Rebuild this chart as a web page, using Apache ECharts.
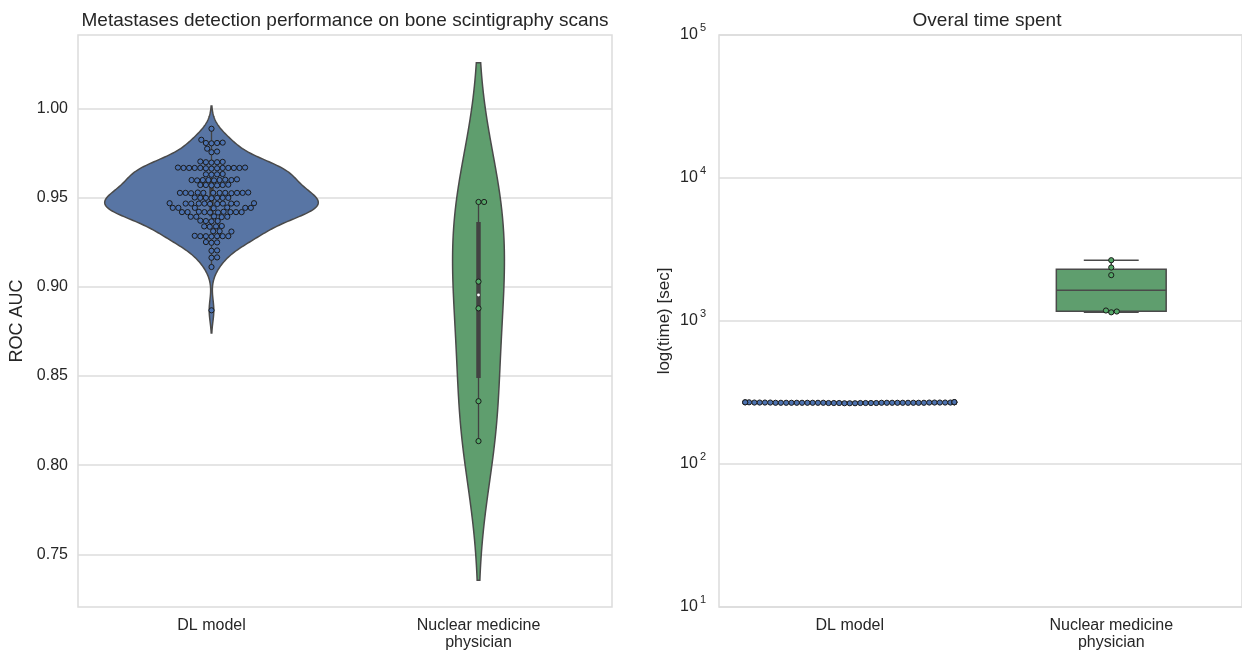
<!DOCTYPE html>
<html><head><meta charset="utf-8">
<script src="https://cdn.jsdelivr.net/npm/echarts@6/dist/echarts.min.js"></script>
<style>html,body{margin:0;padding:0;background:#fff}#c{width:1242px;height:651px}</style>
</head><body><div id="c"></div>
<script>
// ---------------- data ----------------
const categories = ['DL model', 'Nuclear medicine\nphysician'];
const aucTicks = [0.75, 0.80, 0.85, 0.90, 0.95, 1.00];
const timeTicks = [10, 100, 1000, 10000, 100000];

const aucDL = [
  0.9888,
  0.9826,
  0.9808, 0.9808, 0.9806, 0.9810,
  0.9776, 0.9760, 0.9756,
  0.9700, 0.9702, 0.9698, 0.9700, 0.9704,
  0.9668, 0.9666, 0.9668, 0.9670, 0.9668, 0.9664, 0.9668, 0.9668, 0.9670, 0.9666, 0.9668, 0.9668, 0.9668,
  0.9634, 0.9632, 0.9630, 0.9632,
  0.9600, 0.9600, 0.9602, 0.9598, 0.9600, 0.9600, 0.9604, 0.9600, 0.9598,
  0.9572, 0.9570, 0.9574, 0.9572, 0.9572, 0.9570,
  0.9528, 0.9528, 0.9530, 0.9526, 0.9528, 0.9528, 0.9528, 0.9530, 0.9528, 0.9526, 0.9528, 0.9528,
  0.9500, 0.9500, 0.9502, 0.9498, 0.9500, 0.9500, 0.9500,
  0.9468, 0.9468, 0.9470, 0.9466, 0.9468, 0.9468, 0.9468, 0.9470, 0.9468, 0.9466, 0.9468,
  0.9444, 0.9444, 0.9446, 0.9442, 0.9444, 0.9444, 0.9444,
  0.9420, 0.9420, 0.9422, 0.9418, 0.9420, 0.9420, 0.9420, 0.9422, 0.9420, 0.9418,
  0.9394, 0.9394, 0.9396, 0.9392, 0.9394,
  0.9370, 0.9370, 0.9372, 0.9368,
  0.9340, 0.9340, 0.9342, 0.9338,
  0.9313, 0.9313, 0.9311,
  0.9285, 0.9285, 0.9287, 0.9283, 0.9285, 0.9285, 0.9285,
  0.9250, 0.9252, 0.9248,
  0.9205, 0.9203,
  0.9164, 0.9166,
  0.9112,
  0.8869
];
const aucPhys = [0.9477, 0.9477, 0.9030, 0.8880, 0.8359, 0.8135];

const timeDL = [
  268, 269, 267, 268, 270, 268, 266, 269, 268, 267, 268, 271, 268, 269, 267,
  268, 270, 268, 269, 266, 268, 267, 269, 268, 270, 268, 267, 269, 268, 268,
  266, 269, 268, 270, 267, 268, 269, 268, 267, 268, 269, 268, 270, 268
];
const timePhys = [1150, 1165, 1184, 2093, 2366, 2661];

// ---------------- styles ----------------
const FONT = '"Liberation Sans", Arial, sans-serif';
const TXT = '#262626';
const GRIDC = '#dcdcdc';
const FILL = ['#5875A4', '#5F9E6E'];
const PT = ['#4C72B0', '#55A868'];
const EDGE = '#4a4a4a';

// ---------------- helpers ----------------
function quantile(s, q) {
  const pos = (s.length - 1) * q, lo = Math.floor(pos), hi = Math.ceil(pos);
  return s[lo] + (s[hi] - s[lo]) * (pos - lo);
}
function boxStats(vals) {
  const s = [...vals].sort((a, b) => a - b);
  const q1 = quantile(s, 0.25), med = quantile(s, 0.5), q3 = quantile(s, 0.75);
  const iqr = q3 - q1;
  const loW = s.find(v => v >= q1 - 1.5 * iqr);
  const hiW = [...s].reverse().find(v => v <= q3 + 1.5 * iqr);
  return { q1, med, q3, loW, hiW };
}
function kde(vals) {
  const n = vals.length;
  const m = vals.reduce((a, b) => a + b, 0) / n;
  const sd = Math.sqrt(vals.reduce((a, b) => a + (b - m) * (b - m), 0) / (n - 1));
  const bw = sd * Math.pow(n, -1 / 5);
  const lo = Math.min(...vals) - 2 * bw, hi = Math.max(...vals) + 2 * bw;
  const N = 240, ys = [], ds = [];
  for (let i = 0; i <= N; i++) {
    const y = lo + (hi - lo) * i / N;
    let s = 0;
    for (const v of vals) { const z = (y - v) / bw; s += Math.exp(-0.5 * z * z); }
    ys.push(y); ds.push(s / (n * bw * Math.sqrt(2 * Math.PI)));
  }
  return { ys, ds, max: Math.max(...ds) };
}
// beeswarm (seaborn-like): offsets in category units
function swarm(vals, yPx, catPx, d, halfW) {
  const pts = vals.map(v => ({ v, y: yPx(v) })).sort((a, b) => a.v - b.v);
  const placed = [];
  const out = [];
  for (const p of pts) {
    const nb = placed.filter(q => Math.abs(q.y - p.y) < d);
    const cands = [0];
    for (const q of nb) {
      const dy = p.y - q.y, dx = Math.sqrt(Math.max(0, d * d - dy * dy));
      cands.push(q.x + dx, q.x - dx);
    }
    cands.sort((a, b) => Math.abs(a) - Math.abs(b));
    let x = cands[0];
    for (const c of cands) {
      let ok = true;
      for (const q of nb) {
        const dx = c - q.x, dy = p.y - q.y;
        if (dx * dx + dy * dy < d * d - 0.01) { ok = false; break; }
      }
      if (ok) { x = c; break; }
    }
    placed.push({ x, y: p.y });
    let off = x / catPx;
    if (off > halfW) off = halfW;
    if (off < -halfW) off = -halfW;
    out.push([off, p.v]);
  }
  return out;
}

// ---------------- chart ----------------
const chart = echarts.init(document.getElementById('c'));
const labelStyle = { fontFamily: FONT, fontSize: 16, color: TXT };

const option = {
  animation: false,
  backgroundColor: '#ffffff',
  title: [
    { text: 'Metastases detection performance on bone scintigraphy scans', left: 345, top: 11, textAlign: 'center', padding: 0,
      textStyle: { fontFamily: FONT, fontSize: 19, fontWeight: 'normal', color: TXT } },
    { text: 'Overal time spent', left: 987, top: 11, textAlign: 'center', padding: 0,
      textStyle: { fontFamily: FONT, fontSize: 19, fontWeight: 'normal', color: TXT } }
  ],
  grid: [
    { left: 78, top: 35, width: 534, height: 574, show: true, borderColor: GRIDC, borderWidth: 1.5 },
    { left: 719, top: 35, width: 536, height: 574, show: true, borderColor: GRIDC, borderWidth: 1.5 }
  ],
  xAxis: [
    { type: 'category', gridIndex: 0, data: categories, axisLine: { show: false }, axisTick: { show: false },
      axisLabel: Object.assign({ margin: 10, lineHeight: 17 }, labelStyle) },
    { type: 'category', gridIndex: 1, data: categories, axisLine: { show: false }, axisTick: { show: false },
      axisLabel: Object.assign({ margin: 10, lineHeight: 17 }, labelStyle) },
    { type: 'value', gridIndex: 0, min: -0.5, max: 1.5, show: false },
    { type: 'value', gridIndex: 1, min: -0.5, max: 1.5, show: false }
  ],
  yAxis: [
    { type: 'value', gridIndex: 0, min: 0.7204, max: 1.0414,
      axisLine: { show: false }, axisTick: { show: false, customValues: aucTicks },
      axisLabel: Object.assign({ customValues: aucTicks, margin: 10, formatter: v => v.toFixed(2) }, labelStyle),
      splitLine: { show: true, lineStyle: { color: GRIDC, width: 1.5 } },
      name: 'ROC AUC', nameLocation: 'middle', nameGap: 52,
      nameTextStyle: { fontFamily: FONT, fontSize: 18, color: TXT } },
    { type: 'log', gridIndex: 1, logBase: 10, min: 10, max: 100000,
      axisLine: { show: false }, axisTick: { show: false },
      axisLabel: { margin: 13, formatter: v => '{b|10}{s|' + Math.round(Math.log10(v)) + '}',
        rich: { b: { fontFamily: FONT, fontSize: 16, color: TXT, lineHeight: 26 },
                s: { fontFamily: FONT, fontSize: 11, color: TXT, lineHeight: 10, verticalAlign: 'top', padding: [0, 0, 0, 2] } } },
      splitLine: { show: true, lineStyle: { color: GRIDC, width: 1.5 } },
      name: 'log(time) [sec]', nameLocation: 'middle', nameGap: 46,
      nameTextStyle: { fontFamily: FONT, fontSize: 17, color: TXT } }
  ],
  series: []
};
chart.setOption(option);

// pixel scales from the library's axes
const a0 = chart.convertToPixel({ xAxisIndex: 2, yAxisIndex: 0 }, [0, 0.9]);
const a1 = chart.convertToPixel({ xAxisIndex: 2, yAxisIndex: 0 }, [1, 0.9]);
const catPxL = a1[0] - a0[0];
const yPxL = v => chart.convertToPixel({ xAxisIndex: 2, yAxisIndex: 0 }, [0, v])[1];
const b0 = chart.convertToPixel({ xAxisIndex: 3, yAxisIndex: 1 }, [0, 100]);
const b1 = chart.convertToPixel({ xAxisIndex: 3, yAxisIndex: 1 }, [1, 100]);
const catPxR = b1[0] - b0[0];
const yPxR = v => chart.convertToPixel({ xAxisIndex: 3, yAxisIndex: 1 }, [0, v])[1];

const D = 5.6;
const swDL = swarm(aucDL, yPxL, catPxL, D, 0.4).map(p => [0 + p[0], p[1]]);
const swPh = swarm(aucPhys, yPxL, catPxL, D, 0.4).map(p => [1 + p[0], p[1]]);
const swTDL = swarm(timeDL, yPxR, catPxR, 5.3, 0.4).map(p => [0 + p[0], p[1]]);
const swTPh = swarm(timePhys, yPxR, catPxR, D, 0.4).map(p => [1 + p[0], p[1]]);

const kdes = [kde(aucDL), kde(aucPhys)];
const gmax = Math.max(kdes[0].max, kdes[1].max);
const vStats = [boxStats(aucDL), boxStats(aucPhys)];
const tStats = [boxStats(timeDL), boxStats(timePhys)];

function scatterSeries(data, xi, yi, c) {
  return { type: 'scatter', xAxisIndex: xi, yAxisIndex: yi, data, symbol: 'circle', symbolSize: 5.2, z: 6,
    itemStyle: { color: c, borderColor: '#1c1c1c', borderWidth: 1, opacity: 1 }, silent: true };
}

chart.setOption({
  series: [
    { type: 'custom', xAxisIndex: 2, yAxisIndex: 0, data: [[0, 0.9], [1, 0.9]], z: 2, silent: true,
      renderItem: (params, api) => {
        const c = params.dataIndex, k = kdes[c], pts = [];
        for (let i = 0; i < k.ys.length; i++) pts.push(api.coord([c + 0.4 * k.ds[i] / gmax, k.ys[i]]));
        for (let i = k.ys.length - 1; i >= 0; i--) pts.push(api.coord([c - 0.4 * k.ds[i] / gmax, k.ys[i]]));
        return { type: 'polygon', shape: { points: pts }, style: { fill: FILL[c], stroke: EDGE, lineWidth: 1.5 } };
      } },
    { type: 'custom', xAxisIndex: 2, yAxisIndex: 0, data: [[0, 0.9], [1, 0.9]], z: 3, silent: true,
      renderItem: (params, api) => {
        const c = params.dataIndex, s = vStats[c];
        const w0 = api.coord([c, s.loW]), w1 = api.coord([c, s.hiW]);
        const q1 = api.coord([c, s.q1]), q3 = api.coord([c, s.q3]), m = api.coord([c, s.med]);
        return { type: 'group', children: [
          { type: 'line', shape: { x1: w0[0], y1: w0[1], x2: w1[0], y2: w1[1] }, style: { stroke: '#424242', lineWidth: 1.3 } },
          { type: 'line', shape: { x1: q1[0], y1: q1[1], x2: q3[0], y2: q3[1] }, style: { stroke: '#424242', lineWidth: 4.5 } },
          { type: 'circle', shape: { cx: m[0], cy: m[1], r: 1.4 }, style: { fill: '#ffffff' } }
        ] };
      } },
    { type: 'custom', xAxisIndex: 3, yAxisIndex: 1, data: [[0, 100], [1, 100]], z: 2, silent: true,
      renderItem: (params, api) => {
        const c = params.dataIndex, s = tStats[c], hw = 0.21;
        const tl = api.coord([c - hw, s.q3]), br = api.coord([c + hw, s.q1]);
        const mL = api.coord([c - hw, s.med]), mR = api.coord([c + hw, s.med]);
        const wt = api.coord([c, s.hiW]), wb = api.coord([c, s.loW]);
        const q3c = api.coord([c, s.q3]), q1c = api.coord([c, s.q1]);
        const ctL = api.coord([c - hw / 2, s.hiW]), ctR = api.coord([c + hw / 2, s.hiW]);
        const cbL = api.coord([c - hw / 2, s.loW]), cbR = api.coord([c + hw / 2, s.loW]);
        const st = { stroke: EDGE, lineWidth: 1.5 };
        return { type: 'group', children: [
          { type: 'rect', shape: { x: tl[0], y: tl[1], width: br[0] - tl[0], height: br[1] - tl[1] }, style: { fill: FILL[c], stroke: EDGE, lineWidth: 1.5 } },
          { type: 'line', shape: { x1: mL[0], y1: mL[1], x2: mR[0], y2: mR[1] }, style: st },
          { type: 'line', shape: { x1: q3c[0], y1: q3c[1], x2: wt[0], y2: wt[1] }, style: st },
          { type: 'line', shape: { x1: q1c[0], y1: q1c[1], x2: wb[0], y2: wb[1] }, style: st },
          { type: 'line', shape: { x1: ctL[0], y1: ctL[1], x2: ctR[0], y2: ctR[1] }, style: st },
          { type: 'line', shape: { x1: cbL[0], y1: cbL[1], x2: cbR[0], y2: cbR[1] }, style: st }
        ] };
      } },
    scatterSeries(swDL, 2, 0, PT[0]),
    scatterSeries(swPh, 2, 0, PT[1]),
    scatterSeries(swTDL, 3, 1, PT[0]),
    scatterSeries(swTPh, 3, 1, PT[1])
  ]
});
</script>
</body></html>
